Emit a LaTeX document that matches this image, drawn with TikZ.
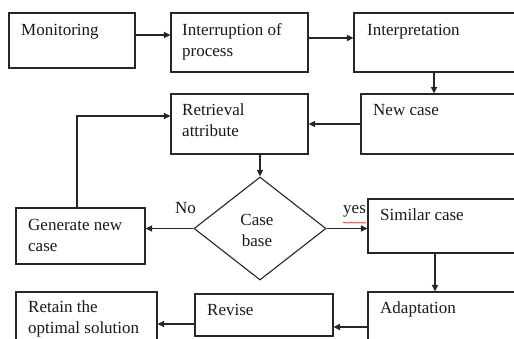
\documentclass[tikz,border=0pt]{standalone}
\usepackage{fontspec}
\setmainfont{Liberation Serif}
\usetikzlibrary{arrows.meta,shapes.geometric,decorations.pathmorphing}
\begin{document}
\begin{tikzpicture}[x=1pt,y=-1pt,
  box/.style={draw=black!85, line width=1.1pt, inner sep=0pt, rectangle},
  lbl/.style={anchor=north west, inner sep=0pt, align=left, text=black!90,
              font=\fontsize{17}{21}\selectfont},
  arr/.style={draw=black!85, line width=1.1pt, -{Triangle[length=6.5pt,width=6pt]}},
  ln/.style={draw=black!85, line width=1.1pt}]
\useasboundingbox (0,0) rectangle (514,338);
\fill[white] (0,0) rectangle (514,338);
\clip (0,0) rectangle (514,338);
% boxes
\node[box, minimum width=126pt, minimum height=55pt] (mon) at (72,40.5) {};
\node[box, minimum width=137pt, minimum height=59pt] (int) at (239.5,42.5) {};
\node[box, minimum width=206pt, minimum height=59pt] (interp) at (457,42.5) {};
\node[box, minimum width=199pt, minimum height=60pt] (newc) at (460.5,124) {};
\node[box, minimum width=137pt, minimum height=60pt] (ret) at (239.5,124) {};
\node[draw=black!85, line width=1.1pt, diamond, inner sep=0pt, minimum width=132pt, minimum height=103pt] (cb) at (260,228.5) {};
\node[box, minimum width=129pt, minimum height=56pt] (gen) at (80.5,236) {};
\node[box, minimum width=192pt, minimum height=54pt] (sim) at (464,226) {};
\node[box, minimum width=192pt, minimum height=68pt] (adapt) at (464,326) {};
\node[box, minimum width=138pt, minimum height=42pt] (rev) at (264,315) {};
\node[box, minimum width=141pt, minimum height=68pt] (retain) at (86.5,326) {};
% texts
\node[lbl] (tmon) at (21,20.3) {\strut Monitoring};
\node[lbl] (tint) at (182,20.3) {\strut Interruption of\\process};
\node[lbl] (tinterp) at (367,20.3) {\strut Interpretation};
\node[lbl] (tnewc) at (373,100.3) {\strut New case};
\node[lbl] (tret) at (182,100.3) {\strut Retrieval\\attribute};
\node[lbl] (tgen) at (28,215.3) {\strut Generate new\\case};
\node[lbl, anchor=north, align=center] (tcb) at (257,210.3) {\strut Case\\base};
\node[lbl] (tsim) at (380,205.3) {\strut Similar case};
\node[lbl] (tadapt) at (380,298.3) {\strut Adaptation};
\node[lbl] (trev) at (207,300.3) {\strut Revise};
\node[lbl] (tretain) at (28,297.3) {\strut Retain the\\optimal solution};
\node[lbl] (tno) at (175,198.3) {\strut No};
\node[lbl] (tyes) at (343,198.3) {\strut yes};
\draw[red, line width=0.5pt, decorate, decoration={snake, amplitude=0.6pt, segment length=2.5pt}]
  ([yshift=-3pt]tyes.south west) -- ([yshift=-3pt]tyes.south east);
% connectors
\draw[arr] ([yshift=5.5pt]mon.east) -- ([yshift=5.5pt]mon.east -| int.west);
\draw[arr] ([yshift=4.5pt]int.east) -- ([yshift=4.5pt]int.east -| interp.west);
\draw[arr] ([xshift=-23pt]interp.south) -- ([xshift=-23pt]interp.south |- newc.north);
\draw[arr] (newc.west) -- (ret.east);
\draw[arr] ([xshift=-3.5pt]gen.north) |- ([yshift=8pt]ret.west);
\draw[arr] ([xshift=20.5pt]ret.south) -- (cb.north);
\draw[arr] (cb.west) -- (cb.west -| gen.east);
\draw[arr] (cb.east) -- (cb.east -| sim.west);
\draw[arr] ([xshift=-29pt]sim.south) -- ([xshift=-29pt]sim.south |- adapt.north);
\draw[arr] ([yshift=-1pt]adapt.west) -- ([yshift=-1pt]adapt.west -| rev.east);
\draw[arr] ([yshift=-9pt]rev.west) -- ([yshift=-9pt]rev.west -| retain.east);
\end{tikzpicture}
\end{document}
